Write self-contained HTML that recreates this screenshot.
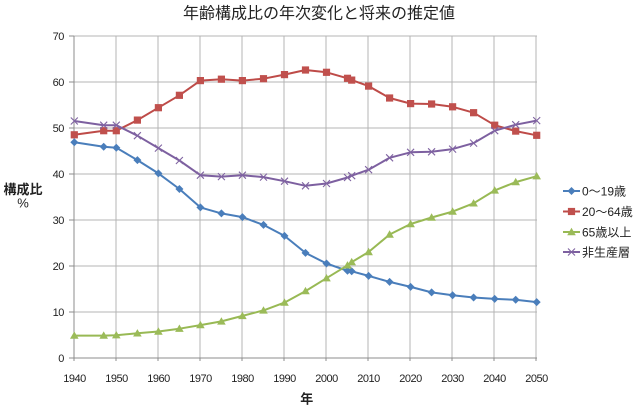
<!DOCTYPE html>
<html><head><meta charset="utf-8">
<style>
html,body{margin:0;padding:0;background:#fff;}
svg{display:block;}
text{font-family:"Liberation Sans","Noto Sans CJK JP",sans-serif;fill:#222;}
.cjk{font-family:"Noto Sans CJK JP","Liberation Sans",sans-serif;}
</style></head>
<body>
<svg width="640" height="414" viewBox="0 0 640 414" xmlns="http://www.w3.org/2000/svg">
<defs>
  <path id="dia" d="M0,-4 L4,0 L0,4 L-4,0Z" fill="#4A7EBB"/>
  <rect id="sq" x="-3.6" y="-3.6" width="7.2" height="7.2" fill="#C0504D"/>
  <path id="tri" d="M0,-4.2 L4.3,3.2 L-4.3,3.2Z" fill="#9BBB59"/>
  <path id="xx" d="M-3.5,-3.5 L3.5,3.5 M-3.5,3.5 L3.5,-3.5" stroke="#8064A2" stroke-width="1.1" fill="none"/>
</defs>

<!-- title -->
<text class="cjk" x="319" y="18.5" font-size="16" text-anchor="middle">年齢構成比の年次変化と将来の推定値</text>

<!-- grid -->
<g stroke="#b4b4b4" stroke-width="1" shape-rendering="crispEdges">
  <line x1="74" y1="36" x2="537" y2="36"/>
  <line x1="74" y1="82" x2="537" y2="82"/>
  <line x1="74" y1="128" x2="537" y2="128"/>
  <line x1="74" y1="174" x2="537" y2="174"/>
  <line x1="74" y1="220" x2="537" y2="220"/>
  <line x1="74" y1="266" x2="537" y2="266"/>
  <line x1="74" y1="312" x2="537" y2="312"/>
  <line x1="116" y1="36" x2="116" y2="358"/>
  <line x1="158" y1="36" x2="158" y2="358"/>
  <line x1="200" y1="36" x2="200" y2="358"/>
  <line x1="242" y1="36" x2="242" y2="358"/>
  <line x1="284" y1="36" x2="284" y2="358"/>
  <line x1="326" y1="36" x2="326" y2="358"/>
  <line x1="368" y1="36" x2="368" y2="358"/>
  <line x1="410" y1="36" x2="410" y2="358"/>
  <line x1="452" y1="36" x2="452" y2="358"/>
  <line x1="494" y1="36" x2="494" y2="358"/>
  <line x1="536" y1="36" x2="536" y2="358"/>
</g>
<!-- axes + ticks -->
<g stroke="#8c8c8c" stroke-width="1" shape-rendering="crispEdges">
  <line x1="74" y1="36" x2="74" y2="361"/>
  <line x1="69" y1="358" x2="537" y2="358"/>
  <line x1="69" y1="36" x2="74" y2="36"/>
  <line x1="69" y1="82" x2="74" y2="82"/>
  <line x1="69" y1="128" x2="74" y2="128"/>
  <line x1="69" y1="174" x2="74" y2="174"/>
  <line x1="69" y1="220" x2="74" y2="220"/>
  <line x1="69" y1="266" x2="74" y2="266"/>
  <line x1="69" y1="312" x2="74" y2="312"/>
  <line x1="116" y1="358" x2="116" y2="361"/>
  <line x1="158" y1="358" x2="158" y2="361"/>
  <line x1="200" y1="358" x2="200" y2="361"/>
  <line x1="242" y1="358" x2="242" y2="361"/>
  <line x1="284" y1="358" x2="284" y2="361"/>
  <line x1="326" y1="358" x2="326" y2="361"/>
  <line x1="368" y1="358" x2="368" y2="361"/>
  <line x1="410" y1="358" x2="410" y2="361"/>
  <line x1="452" y1="358" x2="452" y2="361"/>
  <line x1="494" y1="358" x2="494" y2="361"/>
  <line x1="536" y1="358" x2="536" y2="361"/>
</g>

<!-- y labels -->
<g font-size="11" text-anchor="end" letter-spacing="-0.4">
  <text x="64" y="40">70</text>
  <text x="64" y="86">60</text>
  <text x="64" y="132">50</text>
  <text x="64" y="178">40</text>
  <text x="64" y="224">30</text>
  <text x="64" y="270">20</text>
  <text x="64" y="316">10</text>
  <text x="64" y="362">0</text>
</g>
<!-- x labels -->
<g font-size="11" text-anchor="middle" letter-spacing="-0.5">
  <text x="74.5" y="382">1940</text>
  <text x="116.5" y="382">1950</text>
  <text x="158.5" y="382">1960</text>
  <text x="200.5" y="382">1970</text>
  <text x="242.5" y="382">1980</text>
  <text x="284.5" y="382">1990</text>
  <text x="326.5" y="382">2000</text>
  <text x="368.5" y="382">2010</text>
  <text x="410.5" y="382">2020</text>
  <text x="452.5" y="382">2030</text>
  <text x="494.5" y="382">2040</text>
  <text x="536.5" y="382">2050</text>
</g>

<!-- axis titles -->
<text class="cjk" x="23" y="194" font-size="13" font-weight="bold" text-anchor="middle">構成比</text>
<text x="23" y="207.5" font-size="13" text-anchor="middle">%</text>
<text class="cjk" x="306.7" y="403.5" font-size="13" font-weight="bold" text-anchor="middle">年</text>

<!-- series: 0-19 -->
<polyline fill="none" stroke="#4A7EBB" stroke-width="2" stroke-linejoin="round"
 points="74.3,142.2 103.7,146.8 116.3,147.7 137.4,160.1 158.4,173.4 179.4,189.0 200.4,207.4 221.4,213.4 242.4,217.1 263.5,224.9 284.5,235.9 305.5,252.9 326.5,263.5 347.5,270.8 351.7,271.3 368.6,275.9 389.6,281.9 410.6,286.9 431.6,292.4 452.6,295.2 473.6,297.5 494.7,298.9 515.7,299.8 536.7,302.1"/>
<g>
<use href="#dia" x="74.3" y="142.2"/><use href="#dia" x="103.7" y="146.8"/><use href="#dia" x="116.3" y="147.7"/><use href="#dia" x="137.4" y="160.1"/><use href="#dia" x="158.4" y="173.4"/><use href="#dia" x="179.4" y="189.0"/><use href="#dia" x="200.4" y="207.4"/><use href="#dia" x="221.4" y="213.4"/><use href="#dia" x="242.4" y="217.1"/><use href="#dia" x="263.5" y="224.9"/><use href="#dia" x="284.5" y="235.9"/><use href="#dia" x="305.5" y="252.9"/><use href="#dia" x="326.5" y="263.5"/><use href="#dia" x="347.5" y="270.8"/><use href="#dia" x="351.7" y="271.3"/><use href="#dia" x="368.6" y="275.9"/><use href="#dia" x="389.6" y="281.9"/><use href="#dia" x="410.6" y="286.9"/><use href="#dia" x="431.6" y="292.4"/><use href="#dia" x="452.6" y="295.2"/><use href="#dia" x="473.6" y="297.5"/><use href="#dia" x="494.7" y="298.9"/><use href="#dia" x="515.7" y="299.8"/><use href="#dia" x="536.7" y="302.1"/>
</g>

<!-- series: 20-64 -->
<polyline fill="none" stroke="#BE4B48" stroke-width="2" stroke-linejoin="round"
 points="74.3,134.8 103.7,130.7 116.3,130.7 137.4,120.1 158.4,107.7 179.4,95.3 200.4,80.6 221.4,79.2 242.4,80.6 263.5,78.7 284.5,74.6 305.5,70.0 326.5,72.3 347.5,78.3 351.7,80.1 368.6,86.1 389.6,98.0 410.6,103.6 431.6,104.0 452.6,106.8 473.6,112.7 494.7,125.2 515.7,131.1 536.7,135.3"/>
<g>
<use href="#sq" x="74.3" y="134.8"/><use href="#sq" x="103.7" y="130.7"/><use href="#sq" x="116.3" y="130.7"/><use href="#sq" x="137.4" y="120.1"/><use href="#sq" x="158.4" y="107.7"/><use href="#sq" x="179.4" y="95.3"/><use href="#sq" x="200.4" y="80.6"/><use href="#sq" x="221.4" y="79.2"/><use href="#sq" x="242.4" y="80.6"/><use href="#sq" x="263.5" y="78.7"/><use href="#sq" x="284.5" y="74.6"/><use href="#sq" x="305.5" y="70.0"/><use href="#sq" x="326.5" y="72.3"/><use href="#sq" x="347.5" y="78.3"/><use href="#sq" x="351.7" y="80.1"/><use href="#sq" x="368.6" y="86.1"/><use href="#sq" x="389.6" y="98.0"/><use href="#sq" x="410.6" y="103.6"/><use href="#sq" x="431.6" y="104.0"/><use href="#sq" x="452.6" y="106.8"/><use href="#sq" x="473.6" y="112.7"/><use href="#sq" x="494.7" y="125.2"/><use href="#sq" x="515.7" y="131.1"/><use href="#sq" x="536.7" y="135.3"/>
</g>

<!-- series: 65+ -->
<polyline fill="none" stroke="#98B954" stroke-width="2" stroke-linejoin="round"
 points="74.3,335.6 103.7,335.6 116.3,335.2 137.4,333.3 158.4,331.5 179.4,328.7 200.4,325.1 221.4,321.4 242.4,315.9 263.5,310.4 284.5,302.6 305.5,291.1 326.5,278.2 347.5,265.3 351.7,262.1 368.6,252.0 389.6,234.5 410.6,224.0 431.6,217.5 452.6,211.6 473.6,203.3 494.7,190.4 515.7,182.1 536.7,176.2"/>
<g>
<use href="#tri" x="74.3" y="335.6"/><use href="#tri" x="103.7" y="335.6"/><use href="#tri" x="116.3" y="335.2"/><use href="#tri" x="137.4" y="333.3"/><use href="#tri" x="158.4" y="331.5"/><use href="#tri" x="179.4" y="328.7"/><use href="#tri" x="200.4" y="325.1"/><use href="#tri" x="221.4" y="321.4"/><use href="#tri" x="242.4" y="315.9"/><use href="#tri" x="263.5" y="310.4"/><use href="#tri" x="284.5" y="302.6"/><use href="#tri" x="305.5" y="291.1"/><use href="#tri" x="326.5" y="278.2"/><use href="#tri" x="347.5" y="265.3"/><use href="#tri" x="351.7" y="262.1"/><use href="#tri" x="368.6" y="252.0"/><use href="#tri" x="389.6" y="234.5"/><use href="#tri" x="410.6" y="224.0"/><use href="#tri" x="431.6" y="217.5"/><use href="#tri" x="452.6" y="211.6"/><use href="#tri" x="473.6" y="203.3"/><use href="#tri" x="494.7" y="190.4"/><use href="#tri" x="515.7" y="182.1"/><use href="#tri" x="536.7" y="176.2"/>
</g>

<!-- series: non-productive -->
<polyline fill="none" stroke="#7D60A0" stroke-width="2" stroke-linejoin="round"
 points="74.3,121.0 103.7,125.2 116.3,125.2 137.4,135.7 158.4,148.1 179.4,160.5 200.4,175.2 221.4,176.6 242.4,175.2 263.5,177.1 284.5,181.2 305.5,185.8 326.5,183.5 347.5,177.5 351.7,175.7 368.6,169.7 389.6,157.8 410.6,152.3 431.6,151.8 452.6,149.1 473.6,143.1 494.7,130.7 515.7,124.7 536.7,120.6"/>
<g>
<use href="#xx" x="74.3" y="121.0"/><use href="#xx" x="103.7" y="125.2"/><use href="#xx" x="116.3" y="125.2"/><use href="#xx" x="137.4" y="135.7"/><use href="#xx" x="158.4" y="148.1"/><use href="#xx" x="179.4" y="160.5"/><use href="#xx" x="200.4" y="175.2"/><use href="#xx" x="221.4" y="176.6"/><use href="#xx" x="242.4" y="175.2"/><use href="#xx" x="263.5" y="177.1"/><use href="#xx" x="284.5" y="181.2"/><use href="#xx" x="305.5" y="185.8"/><use href="#xx" x="326.5" y="183.5"/><use href="#xx" x="347.5" y="177.5"/><use href="#xx" x="351.7" y="175.7"/><use href="#xx" x="368.6" y="169.7"/><use href="#xx" x="389.6" y="157.8"/><use href="#xx" x="410.6" y="152.3"/><use href="#xx" x="431.6" y="151.8"/><use href="#xx" x="452.6" y="149.1"/><use href="#xx" x="473.6" y="143.1"/><use href="#xx" x="494.7" y="130.7"/><use href="#xx" x="515.7" y="124.7"/><use href="#xx" x="536.7" y="120.6"/>
</g>

<!-- legend -->
<g>
  <line x1="563" y1="191" x2="580" y2="191" stroke="#4A7EBB" stroke-width="2"/>
  <use href="#dia" x="571.5" y="191"/>
  <text x="582" y="195.5" font-size="12">0〜19歳</text>

  <line x1="563" y1="211.5" x2="580" y2="211.5" stroke="#BE4B48" stroke-width="2"/>
  <use href="#sq" x="571.5" y="211.5"/>
  <text x="582" y="216" font-size="12">20〜64歳</text>

  <line x1="563" y1="232" x2="580" y2="232" stroke="#98B954" stroke-width="2"/>
  <use href="#tri" x="571.5" y="232"/>
  <text x="582" y="236.5" font-size="12">65歳以上</text>

  <line x1="563" y1="252" x2="580" y2="252" stroke="#7D60A0" stroke-width="2"/>
  <use href="#xx" x="571.5" y="252"/>
  <text x="582" y="256.5" font-size="12">非生産層</text>
</g>
</svg>
</body></html>
